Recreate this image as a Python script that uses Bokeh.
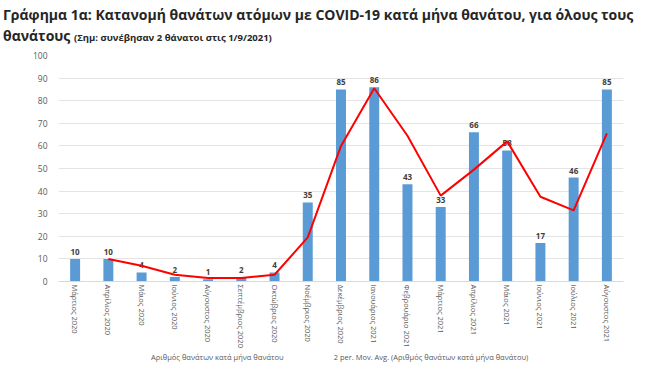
from bokeh.plotting import figure
from bokeh.layouts import column
from bokeh.models import ColumnDataSource, Range1d, Legend, LegendItem, Div
from bokeh.core.properties import value
from bokeh.embed import file_html
from bokeh.resources import INLINE

months = ["Μάρτιος 2020", "Απρίλιος 2020", "Μάιος 2020", "Ιούνιος 2020", "Αύγουστος 2020",
          "Σεπτέμβριος 2020", "Οκτώβριος 2020", "Νοέμβριος 2020", "Δεκέμβριος 2020",
          "Ιανουάριος 2021", "Φεβρουάριο 2021", "Μάρτιος 2021", "Απρίλιος 2021",
          "Μάιος 2021", "Ιούνιος 2021", "Ιούλιος 2021", "Αύγουστος 2021"]
deaths = [10, 10, 4, 2, 1, 2, 4, 35, 85, 86, 43, 33, 66, 58, 17, 46, 85]
mov_avg_months = months[1:]
mov_avg = [10, 7, 3, 1.5, 1.5, 3, 19.5, 60, 85.5, 64.5, 38, 49.5, 62, 37.5, 31.5, 65.5]
y_ticks = [0, 10, 20, 30, 40, 50, 60, 70, 80, 90, 100]
title_line1 = "Γράφημα 1α: Κατανομή θανάτων ατόμων με COVID-19 κατά μήνα θανάτου, για όλους τους"
title_line2 = "θανάτους"
title_note = "(Σημ: συνέβησαν 2 θάνατοι στις 1/9/2021)"
legend_bar = "Αριθμός θανάτων κατά μήνα θανάτου"
legend_line = "2 per. Mov. Avg. (Αριθμός θανάτων κατά μήνα θανάτου)"

FONT = "Open Sans"
W = 629
LEFT, RIGHT = 58, 6
BAR_COLOR = "#5B9BD5"
LINE_COLOR = "#FF0000"

# ---- title (HTML text, not clipped) ----
TH = 47
title_html = (
    f'<div style="font-family:\'{FONT}\';font-weight:bold;color:#262626;font-size:14px;'
    f'line-height:21px;padding:4px 0 0 3px;white-space:nowrap">'
    f'{title_line1}<br>{title_line2} '
    f'<span style="font-size:9.5px">{title_note}</span></div>'
)
t = Div(text=title_html, width=W, height=TH, margin=(0, 0, 0, 0))

# ---- main chart ----
p = figure(x_range=months, y_range=Range1d(0, 100), width=W, height=303,
           output_backend="svg", toolbar_location=None,
           min_border_left=LEFT, min_border_right=RIGHT, min_border_top=8, min_border_bottom=68)
p.outline_line_color = None
p.background_fill_color = "white"
p.border_fill_color = "white"

bars_src = ColumnDataSource(dict(m=months, v=deaths, t=[str(d) for d in deaths]))
p.vbar(x="m", top="v", width=0.3, source=bars_src, fill_color=BAR_COLOR, line_color=None)
p.text(x="m", y="v", text="t", source=bars_src, text_align="center", text_baseline="bottom",
       y_offset=-4, text_font=value(FONT), text_font_size="8px", text_font_style="bold",
       text_color="#404040")
p.line(x=mov_avg_months, y=mov_avg, line_color=LINE_COLOR, line_width=2)

p.yaxis.ticker = y_ticks
p.yaxis.axis_line_color = None
p.yaxis.major_tick_line_color = None
p.yaxis.minor_tick_line_color = None
p.yaxis.major_label_text_font = FONT
p.yaxis.major_label_text_font_size = "8.5px"
p.yaxis.major_label_text_color = "#595959"

p.xaxis.axis_line_color = "#D9D9D9"
p.xaxis.major_tick_line_color = None
p.xaxis.major_tick_out = 0
p.xaxis.major_tick_in = 0
p.xaxis.major_label_orientation = "vertical"
p.xaxis.major_label_text_font = FONT
p.xaxis.major_label_text_font_size = "7.5px"
p.xaxis.major_label_text_color = "#595959"
p.xaxis.major_label_standoff = 3

p.xgrid.grid_line_color = None
p.ygrid.grid_line_color = "#E4E4E4"

# ---- legend strip ----
LH = 12
lg = figure(width=W, height=LH, x_range=Range1d(0, 1), y_range=Range1d(0, 1),
            output_backend="svg", toolbar_location=None,
            min_border_left=LEFT, min_border_right=RIGHT, min_border_top=0, min_border_bottom=0)
lg.axis.visible = False
lg.grid.visible = False
lg.outline_line_color = None
lg.background_fill_color = "white"
lg.border_fill_color = "white"
r_bar = lg.vbar(x=[], top=[], width=0.3, fill_color=BAR_COLOR, line_color=None)
r_line = lg.line(x=[], y=[], line_color=LINE_COLOR, line_width=2)
legend = Legend(items=[LegendItem(label=legend_bar, renderers=[r_bar]),
                       LegendItem(label=legend_line, renderers=[r_line])],
                orientation="horizontal", location=(71, 0), border_line_color=None,
                background_fill_alpha=0, label_text_font=FONT, label_text_font_size="7.5px",
                label_text_color="#595959", glyph_width=20, glyph_height=5, label_standoff=2,
                spacing=28, padding=1, margin=0, label_height=10)
lg.add_layout(legend)

layout = column(t, p, lg, spacing=0)
open("out.html", "w").write(file_html(layout, INLINE))
